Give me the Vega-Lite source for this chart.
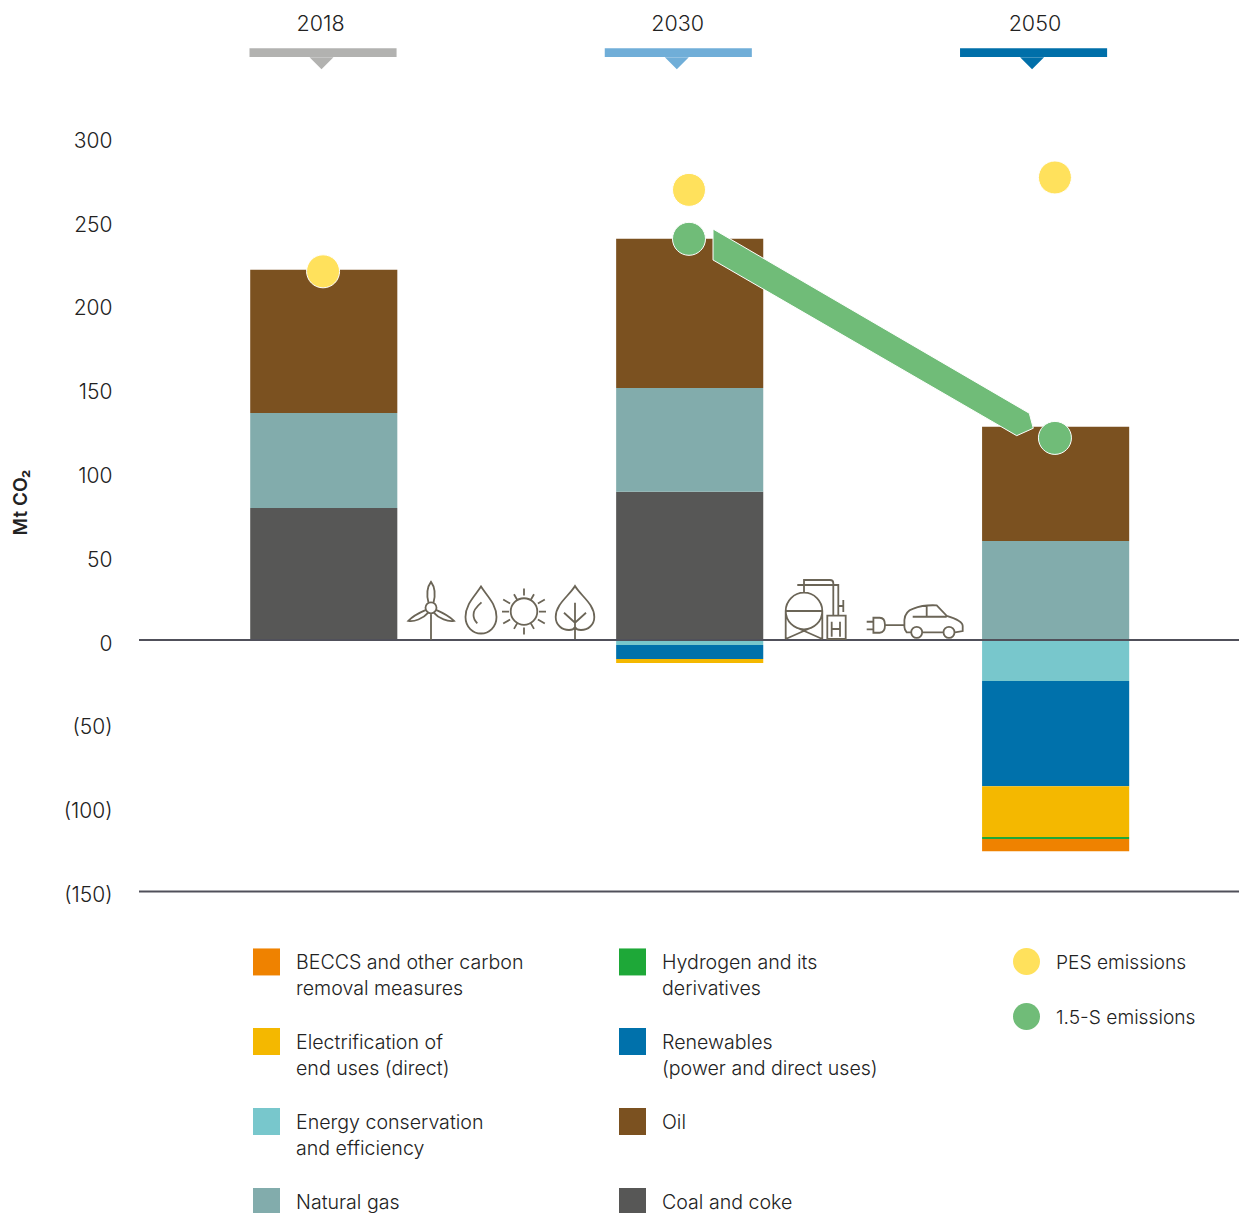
{
"$schema":"https://vega.github.io/schema/vega-lite/v6.json",
"autosize":{"type":"none"},
"padding":{"left":139,"top":0,"right":0,"bottom":0},
"width":1100,
"height":1213,
"background":"white",
"config":{"view":{"stroke":null},"font":"Inter","text":{"font":"Inter"}},
"datasets":{
"stack":[
{"year":"2018","measure":"Coal and coke","rank":1,"value":78.8},
{"year":"2018","measure":"Natural gas","rank":2,"value":56.7},
{"year":"2018","measure":"Oil","rank":3,"value":85.4},
{"year":"2030","measure":"Coal and coke","rank":1,"value":88.4},
{"year":"2030","measure":"Natural gas","rank":2,"value":62},
{"year":"2030","measure":"Oil","rank":3,"value":89},
{"year":"2030","measure":"Energy conservation and efficiency","rank":4,"value":-3},
{"year":"2030","measure":"Renewables (power and direct uses)","rank":5,"value":-8.3},
{"year":"2030","measure":"Electrification of end uses (direct)","rank":6,"value":-2.4},
{"year":"2050","measure":"Natural gas","rank":2,"value":59.1},
{"year":"2050","measure":"Oil","rank":3,"value":68.1},
{"year":"2050","measure":"Energy conservation and efficiency","rank":4,"value":-24.5},
{"year":"2050","measure":"Renewables (power and direct uses)","rank":5,"value":-62.7},
{"year":"2050","measure":"Electrification of end uses (direct)","rank":6,"value":-30.4},
{"year":"2050","measure":"Hydrogen and its derivatives","rank":7,"value":-1.2},
{"year":"2050","measure":"BECCS and other carbon removal measures","rank":8,"value":-7.2}
],
"emissions":[
{"year":"2018","series":"PES emissions","value":220},
{"year":"2030","series":"PES emissions","value":268.6},
{"year":"2030","series":"1.5-S emissions","value":239.4},
{"year":"2050","series":"PES emissions","value":276},
{"year":"2050","series":"1.5-S emissions","value":120.6}
],
"years":[{"year":"2018"},{"year":"2030"},{"year":"2050"}],
"lines":[{"level":0},{"level":-150}],
"one":[{"item":"shape"}]
},
"layer":[
{"data":{"name":"stack"},
 "mark":{"type":"bar"},
 "encoding":{
  "x":{"field":"year","type":"nominal","axis":null,"scale":{"type":"band","domain":["2018","2030","2050"],"range":[0.7,1100.7],"paddingInner":0.598,"paddingOuter":0.302}},
  "y":{"field":"value","type":"quantitative","stack":"zero","scale":{"domain":[-341.9,381.9],"nice":false,"zero":false},
   "axis":{"values":[-150,-100,-50,0,50,100,150,200,250,300],"domain":false,"ticks":false,"grid":false,"labelPadding":27,"labelFontSize":21,"labelFont":"Inter","labelFontWeight":300,"labelColor":"#222222","labelOffset":4,"labelExpr":"datum.value<0?'('+abs(datum.value)+')':''+datum.value","title":"Mt CO₂","titleFont":"Inter","titleFontSize":19,"titleFontWeight":600,"titleColor":"#222222","titleX":-119,"titleY":502,"titleAngle":-90,"titleAlign":"center","titleBaseline":"middle"}},
  "order":{"field":"rank","type":"quantitative"},
  "color":{"field":"measure","type":"nominal","scale":{"domain":["BECCS and other carbon removal measures","Electrification of end uses (direct)","Energy conservation and efficiency","Natural gas","Hydrogen and its derivatives","Renewables (power and direct uses)","Oil","Coal and coke"],"range":["#EF8200","#F4B800","#78C7CC","#82ACAC","#1EA838","#0071AB","#7B5120","#575756"]},
   "legend":{"orient":"none","legendX":114,"legendY":948,"title":null,"columns":2,"symbolType":"square","symbolSize":729,"symbolStrokeWidth":0,"symbolOpacity":1,"labelFont":"Inter","labelFontWeight":300,"labelFontSize":19.6,"labelColor":"#222222","labelOffset":16,"labelLimit":400,"labelBaseline":"top","gridAlign":"all","columnPadding":95,"rowPadding":29,"padding":0,
    "labelExpr":"datum.label=='BECCS and other carbon removal measures'?['BECCS and other carbon','removal measures']:datum.label=='Hydrogen and its derivatives'?['Hydrogen and its','derivatives']:datum.label=='Electrification of end uses (direct)'?['Electrification of','end uses (direct)']:datum.label=='Renewables (power and direct uses)'?['Renewables','(power and direct uses)']:datum.label=='Energy conservation and efficiency'?['Energy conservation','and efficiency']:datum.label",
    "encoding":{"labels":{"lineHeight":{"value":26},"dy":{"value":-8}}}}}
 }},
{"data":{"name":"lines"},
 "mark":{"type":"rule","color":"#50505A","strokeWidth":2},
 "encoding":{"y":{"field":"level","type":"quantitative"}}},
{"data":{"name":"years"},
 "mark":{"type":"bar"},
 "encoding":{
  "x":{"field":"year","type":"nominal","axis":null,"scale":{"type":"band","domain":["2018","2030","2050"],"range":[0,1078.6],"paddingInner":0.586,"paddingOuter":0.311}},
  "y":{"datum":353.1,"type":"quantitative"},"y2":{"datum":347.9},
  "color":{"field":"year","type":"nominal","legend":null,"scale":{"domain":["2018","2030","2050"],"range":["#B2B2B0","#70AED8","#006FA9"]}}
 }},
{"data":{"name":"years"},
 "mark":{"type":"point","filled":true,"opacity":1,"shape":"M-12,-6L12,-6L0,6Z","size":4,"xOffset":-1.5},
 "encoding":{
  "x":{"field":"year","type":"nominal","axis":null,"scale":{"type":"band","domain":["2018","2030","2050"],"range":[0,1078.6],"paddingInner":0.586,"paddingOuter":0.311}},
  "y":{"datum":344.2,"type":"quantitative"},
  "color":{"field":"year","type":"nominal","legend":null,"scale":{"domain":["2018","2030","2050"],"range":["#B2B2B0","#70AED8","#006FA9"]}}
 }},
{"data":{"name":"years"},
 "mark":{"type":"text","fontSize":21.5,"font":"Inter","fontWeight":300,"color":"#222222","baseline":"middle","align":"center"},
 "encoding":{
  "x":{"field":"year","type":"nominal","axis":null,"scale":{"type":"band","domain":["2018","2030","2050"],"range":[0,1077.5],"paddingInner":0.586,"paddingOuter":0.3014}},
  "y":{"datum":367.2,"type":"quantitative"},
  "text":{"field":"year","type":"nominal"}
 }},
{"data":{"name":"one"},
 "mark":{"type":"point","filled":true,"opacity":1,"color":"#70BC78","stroke":"white","strokeWidth":1,"shape":"M-157,-101L159.3,83.3L163.3,98.3L146.7,105.7L-157,-70Z","size":4},
 "encoding":{"x":{"datum":731,"type":"quantitative","axis":null,"scale":{"domain":[0,1100]}},"y":{"datum":185,"type":"quantitative"}}},
{"data":{"name":"one"},
 "mark":{"type":"point","filled":false,"opacity":1,"stroke":"#6B6557","strokeWidth":1.8,"size":4,"shape":"M0,6L0,32M-5.5,0A5.5,5.5 0 1,1 5.5,0A5.5,5.5 0 1,1 -5.5,0M-2.5,-5C-5,-15 -3,-22 0,-26C3,-22 5,-15 2.5,-5M-5,2C-12,5 -19,9 -22.7,13C-17,14 -8,11 -3,5M5,2C12,5 19,9 23,13C17,14 8,11 3,5"},
 "encoding":{"x":{"datum":292,"type":"quantitative","axis":null,"scale":{"domain":[0,1100]}},"y":{"datum":19.2,"type":"quantitative"}}},
{"data":{"name":"one"},
 "mark":{"type":"point","filled":false,"opacity":1,"stroke":"#6B6557","strokeWidth":1.8,"size":4,"shape":"M0,-23.5C-6,-14 -15.5,-6 -15.5,7C-15.5,17 -8,23.5 0,23.5C8,23.5 15.5,17 15.5,7C15.5,-6 6,-14 0,-23.5ZM0.5,-7.7C-5,-3 -8,1 -7.5,5C-7.5,8 -6,11 -3.7,13.3"},
 "encoding":{"x":{"datum":342,"type":"quantitative","axis":null,"scale":{"domain":[0,1100]}},"y":{"datum":17.9,"type":"quantitative"}}},
{"data":{"name":"one"},
 "mark":{"type":"point","filled":false,"opacity":1,"stroke":"#6B6557","strokeWidth":1.8,"size":4,"shape":"M-13.3,0A13.3,13.3 0 1,1 13.3,0A13.3,13.3 0 1,1 -13.3,0M0,-16L0,-23M0,16L0,23M15,0L22,0M-15,0L-22,0M7,-12.1L10,-17.3M7,12.1L10,17.3M-7,12.1L-10,17.3M-7,-12.1L-10,-17.3M13.9,-8L20.8,-12M13.9,8L20.8,12M-13.9,8L-20.8,12M-13.9,-8L-20.8,-12"},
 "encoding":{"x":{"datum":385,"type":"quantitative","axis":null,"scale":{"domain":[0,1100]}},"y":{"datum":17,"type":"quantitative"}}},
{"data":{"name":"one"},
 "mark":{"type":"point","filled":false,"opacity":1,"stroke":"#6B6557","strokeWidth":1.8,"size":4,"shape":"M0,-24C-6,-14 -19.3,-6 -19.3,7C-19.3,15 -13,20 -6,20C-3,20 -1,19 0,17C1,19 3,20 6,20C13,20 19.3,15 19.3,7C19.3,-6 6,-14 0,-24ZM0,-7.3L0,29M-11,2.7L0,12.7L11,2.7"},
 "encoding":{"x":{"datum":436,"type":"quantitative","axis":null,"scale":{"domain":[0,1100]}},"y":{"datum":17.9,"type":"quantitative"}}},
{"data":{"name":"one"},
 "mark":{"type":"point","filled":false,"opacity":1,"stroke":"#6B6557","strokeWidth":1.8,"size":4,"shape":"M-18.3,0A18.3,18.3 0 1,1 18.3,0A18.3,18.3 0 1,1 -18.3,0M-18.3,0L18.3,0M-18.3,0L-18.3,28M18.3,0L18.3,28M-18.3,28L9.3,15.7M18.3,28L-9.3,15.7M0,-26L0,-18.3M-6.7,-26L34.3,-26L34.3,4.7M29.3,4.7L29.3,-28Q29.3,-31 26,-31L0,-31L0,-26M23.3,4.7L41.7,4.7L41.7,28L23.3,28ZM27.7,10.7L27.7,25.7M36,10.7L36,25.7M27.7,18L36,18M34.3,-5L39.3,-5M39.3,-11L39.3,1"},
 "encoding":{"x":{"datum":665,"type":"quantitative","axis":null,"scale":{"domain":[0,1100]}},"y":{"datum":17.3,"type":"quantitative"}}},
{"data":{"name":"one"},
 "mark":{"type":"point","filled":false,"opacity":1,"stroke":"#6B6557","strokeWidth":1.8,"size":4,"shape":"M-6,12.3L-10,12.3C-12,10 -12.3,9 -12.3,7L-12.3,0C-12,-6 -8,-10 -3.3,-11.5C3,-14 14,-15 20,-14.7L30,-4.3C38,-2 46,2 46,6L46,11L38.3,12.3M-5.5,12.3A5.5,5.5 0 1,1 5.5,12.3A5.5,5.5 0 1,1 -5.5,12.3M26.8,12.3A5.5,5.5 0 1,1 37.8,12.3A5.5,5.5 0 1,1 26.8,12.3M5.5,12.3L26.8,12.3M-4,-3.3L30,-3.3M10,-14L10,-3.3M-43.3,-2.3L-37,-2.3C-33,-2.3 -31.7,1 -31.7,5C-31.7,9 -33,12.7 -37,12.7L-43.3,12.7ZM-50,1.7L-43.3,1.7M-50,9.3L-43.3,9.3M-31.7,5L-12.3,5"},
 "encoding":{"x":{"datum":777.7,"type":"quantitative","axis":null,"scale":{"domain":[0,1100]}},"y":{"datum":11.9,"type":"quantitative"}}},
{"data":{"name":"emissions"},
 "mark":{"type":"point","filled":true,"opacity":1,"shape":"circle","size":1089,"stroke":"white","strokeWidth":1},
 "encoding":{
  "x":{"field":"year","type":"nominal","axis":null,"scale":{"type":"band","domain":["2018","2030","2050"],"paddingInner":0.598,"paddingOuter":0.302}},
  "y":{"field":"value","type":"quantitative"},
  "color":{"field":"series","type":"nominal","scale":{"domain":["PES emissions","1.5-S emissions"],"range":["#FFE15C","#70BC78"]},
   "legend":{"orient":"none","legendX":874,"legendY":948,"title":null,"symbolType":"circle","symbolSize":729,"symbolStrokeWidth":0,"symbolOpacity":1,"labelFont":"Inter","labelFontWeight":300,"labelFontSize":19.2,"labelColor":"#222222","labelOffset":16,"rowPadding":28,"padding":0,"labelLimit":300,"encoding":{"labels":{"dy":{"value":1}}}}}
 }}
],
"resolve":{"scale":{"x":"independent","color":"independent"},"legend":{"color":"independent"}}
}
